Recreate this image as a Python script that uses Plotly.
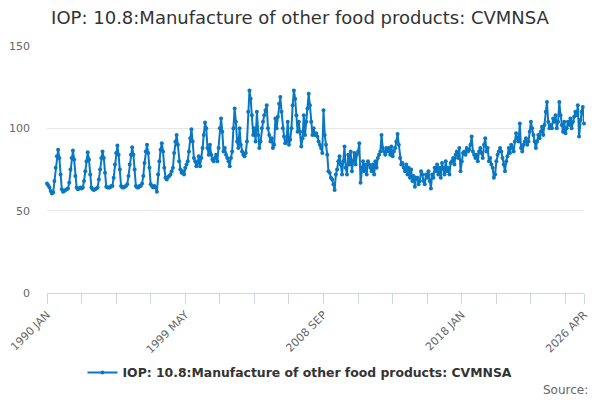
import plotly.graph_objects as go

MONTHS = ["JAN", "FEB", "MAR", "APR", "MAY", "JUN", "JUL", "AUG", "SEP", "OCT", "NOV", "DEC"]

v1990 = [66.5, 65.5, 64, 62, 60.5, 61, 68, 76, 83, 87, 82, 72]
v1991 = [63, 61.5, 62, 62.5, 63, 63.5, 67, 75, 82, 86.5, 81, 71]
v1992 = [64, 63, 63.5, 64, 63.5, 64, 68, 74, 80, 85.5, 81, 72]
v1993 = [64, 63, 62.5, 63, 63.5, 64, 69, 75, 82, 86, 82, 73]
v1994 = [64.5, 64, 64, 64, 65, 65, 70, 78, 85, 89.5, 84, 75]
v1995 = [65, 64, 64, 64.5, 65, 66, 71, 78, 84, 88.5, 84, 75]
v1996 = [65, 64, 64, 65, 65, 66.5, 71, 79, 86, 90, 85, 76]
v1997 = [66, 65, 64, 65, 64, 61.5, 72, 80, 87, 91, 86, 76]
v1998 = [70, 69, 70.5, 71, 72, 74, 76, 85, 92, 96, 90, 80]
v1999 = [75, 73, 74, 72, 76, 78, 80, 86, 94, 99.5, 92, 82]
v2000 = [80, 77, 79, 83, 77, 82, 88, 96, 103.5, 100, 88, 84]
v2001 = [90, 84, 81, 80, 82, 84, 80, 88, 100, 106, 98, 86]
v2002 = [88, 84, 82, 80, 77, 82, 86, 100, 112, 104, 92, 88]
v2003 = [100, 90, 86, 84, 83, 85, 92, 110, 123, 118, 108, 96]
v2004 = [100, 92, 110, 96, 88, 92, 100, 104, 108, 111, 114, 100]
v2005 = [96, 92, 94, 88, 90, 106, 100, 107, 115, 119, 110, 100]
v2006 = [95, 91, 92, 104, 90, 93, 100, 114, 123, 118, 108, 98]
v2007 = [104, 98, 89, 94, 108, 96, 104, 112, 121, 114, 104, 96]
v2008 = [100, 96, 97, 95, 92, 90, 88, 85, 111, 96, 90, 84]
v2009 = [74, 73, 70, 69, 66, 62.5, 72, 75, 80, 83, 78, 72]
v2010 = [80, 89, 76, 72, 84, 78, 86, 74, 80, 85, 78, 84]
v2011 = [86, 91, 67, 76, 80, 74, 78, 72, 80, 78, 76, 74]
v2012 = [78, 72, 80, 76, 82, 84, 86, 96, 88, 86, 84, 88]
v2013 = [86, 88, 84, 89, 83, 86, 88, 92, 96.5, 90, 82, 78]
v2014 = [79, 76, 74, 78, 72, 76, 70, 75, 68, 71, 64.5, 70]
v2015 = [70, 66, 68, 74, 72, 68, 66, 72, 70, 74, 68, 63.5]
v2016 = [72, 70, 76, 74, 78, 72, 76, 70, 79, 76, 72, 80]
v2017 = [74, 76, 72, 79, 80, 82, 78, 84, 86, 82, 88, 74]
v2018 = [80, 85, 86, 84, 88, 86, 87, 90, 95, 86, 84, 82]
v2019 = [84, 80, 86, 88, 85, 82, 90, 94, 86, 88, 80, 82]
v2020 = [78, 76, 70, 72, 80, 84, 86, 88, 86, 82, 78, 74]
v2021 = [80, 83, 88, 85, 90, 88, 86, 92, 97, 94, 92, 103]
v2022 = [88, 86, 90, 92, 94, 90, 92, 98, 104, 100, 96, 92]
v2023 = [88, 92, 96, 94, 98, 101, 96, 102, 110, 116, 104, 100]
v2024 = [102, 100, 106, 104, 108, 100, 104, 116, 108, 102, 98, 104]
v2025 = [97, 100, 104, 102, 106, 100, 104, 107, 110, 108, 114, 95]
v2026 = [105, 110, 113, 103]

years = [v1990, v1991, v1992, v1993, v1994, v1995, v1996, v1997, v1998, v1999,
         v2000, v2001, v2002, v2003, v2004, v2005, v2006, v2007, v2008, v2009,
         v2010, v2011, v2012, v2013, v2014, v2015, v2016, v2017, v2018, v2019,
         v2020, v2021, v2022, v2023, v2024, v2025, v2026]

categories = []
values = []
for i, yr in enumerate(years):
    for m, v in enumerate(yr):
        categories.append(f"{1990 + i} {MONTHS[m]}")
        values.append(v)

tick_step = 28
tick_idx = list(range(0, len(categories), tick_step)) + [len(categories) - 1]
label_idx = set(list(range(0, len(categories) - 1, 112)) + [len(categories) - 1])
tick_vals = [categories[i] for i in tick_idx]
tick_text = [categories[i] if i in label_idx else "" for i in tick_idx]

color = "#0a77c2"
font = "DejaVu Sans, Verdana, sans-serif"

# page body has an 8px margin, so the figure is sized/offset to compensate
W, H = 592, 392
L, R, T, B = 39, 16, 38, 107

fig = go.Figure()
fig.add_trace(go.Scatter(
    x=categories, y=values, mode="lines+markers",
    name="IOP: 10.8:Manufacture of other food products: CVMNSA",
    line=dict(color=color, width=2),
    marker=dict(color=color, size=4),
    cliponaxis=False,
))

fig.update_layout(
    width=W, height=H,
    margin=dict(l=L, r=R, t=T, b=B, autoexpand=False),
    paper_bgcolor="white", plot_bgcolor="white",
    font=dict(family=font, color="#666666"),
    title=dict(text="IOP: 10.8:Manufacture of other food products: CVMNSA",
               x=(300 - 8) / W, xanchor="center", xref="container",
               y=1 - 10 / H, yanchor="middle", yref="container",
               font=dict(size=18, color="#333333", family=font)),
    showlegend=True,
    legend=dict(orientation="h", x=(300 - 47) / 537, xanchor="center",
                y=-80 / 247, yanchor="middle", itemwidth=30,
                font=dict(size=12.4, color="#333333", family=font, weight="bold")),
    xaxis=dict(type="category", range=[0, len(categories) - 1],
               tickmode="array", tickvals=tick_vals, ticktext=tick_text,
               tickangle=-45, ticks="outside", ticklen=10, tickcolor="#ccd6eb",
               showline=True, linecolor="#ccd6eb", linewidth=1,
               showgrid=False, zeroline=False, automargin=False,
               tickfont=dict(size=11, color="#666666", family=font)),
    yaxis=dict(range=[0, 150], tickvals=[0, 50, 100, 150],
               showgrid=True, gridcolor="#e6e6e6", zeroline=False,
               showline=False, ticks="", ticklabelstandoff=16, automargin=False,
               tickfont=dict(size=11, color="#666666", family=font)),
    annotations=[dict(text="Source:", xref="paper", yref="paper",
                      x=(590 - 47) / 537, y=-(390 - 293) / 247,
                      xanchor="right", yanchor="middle", showarrow=False,
                      font=dict(size=12, color="#666666", family=font))],
)

fig.write_html("out.html")
